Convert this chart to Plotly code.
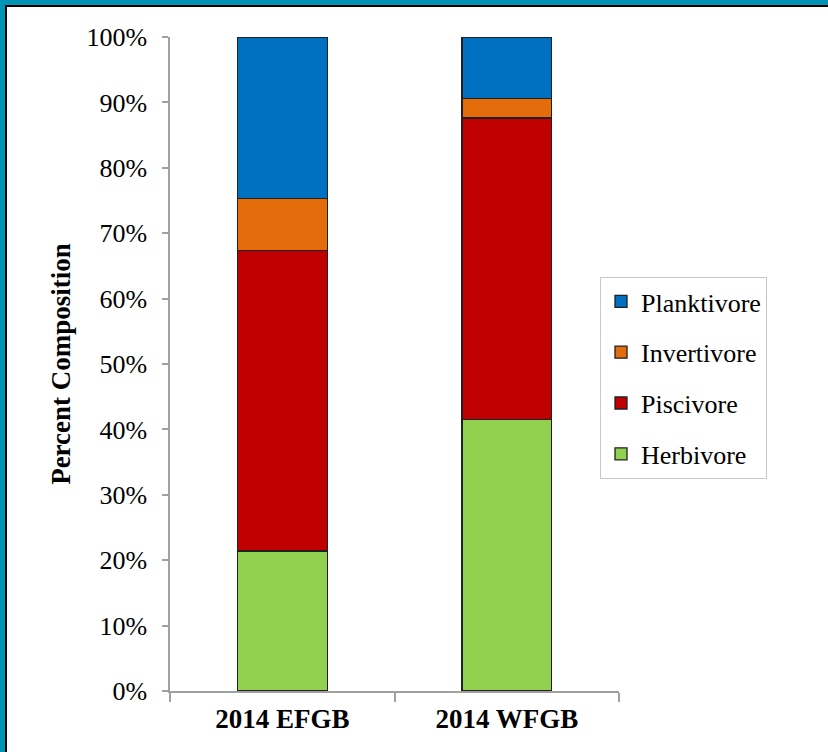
import plotly.graph_objects as go

categories = ["2014 EFGB", "2014 WFGB"]
herbivore = [21.4, 41.5]
piscivore = [46.0, 46.1]
invertivore = [7.9, 3.0]
planktivore = [24.7, 9.4]
tick_vals = [0, 10, 20, 30, 40, 50, 60, 70, 80, 90, 100]
tick_text = [f"{v}%" for v in tick_vals]

series = [
    ("Herbivore", herbivore, "#92D050", 4),
    ("Piscivore", piscivore, "#C00000", 3),
    ("Invertivore", invertivore, "#E46C0A", 2),
    ("Planktivore", planktivore, "#0070C0", 1),
]

fig = go.Figure()
for name, vals, color, rank in series:
    fig.add_trace(go.Bar(
        x=categories, y=vals, name=name, legendgroup=name, legendrank=rank,
        marker=dict(color=color, line=dict(color="#202020", width=1.3)),
    ))

W, H = 828, 752
L, R, T, B = 170, 209, 37, 61
pw, ph = W - L - R, H - T - B

def px(x):
    return (x - L) / pw

def py(y):
    return (H - B - y) / ph

font = "Liberation Serif, Times New Roman, serif"
shapes = [
    dict(type="rect", xref="paper", yref="paper", x0=px(0), x1=px(W), y0=py(0), y1=py(5),
         fillcolor="#0094B5", line=dict(width=0), layer="above"),
    dict(type="rect", xref="paper", yref="paper", x0=px(0), x1=px(5), y0=py(0), y1=py(H),
         fillcolor="#0094B5", line=dict(width=0), layer="above"),
    dict(type="rect", xref="paper", yref="paper", x0=px(5), x1=px(W), y0=py(5), y1=py(7),
         fillcolor="#000000", line=dict(width=0), layer="above"),
    dict(type="rect", xref="paper", yref="paper", x0=px(5), x1=px(7), y0=py(5), y1=py(H),
         fillcolor="#000000", line=dict(width=0), layer="above"),
]

fig.update_layout(
    width=W, height=H,
    margin=dict(l=L, r=R, t=T, b=B, pad=0),
    barmode="stack", bargap=0.6,
    paper_bgcolor="white", plot_bgcolor="white",
    font=dict(family=font, color="#000000", size=22),
    showlegend=True,
    legend=dict(
        x=px(600), y=py(277), xanchor="left", yanchor="top",
        xref="paper", yref="paper",
        traceorder="grouped", tracegroupgap=14,
        bordercolor="#C8C8C8", borderwidth=1, bgcolor="white",
        font=dict(family=font, size=26, color="#000000"),
        itemwidth=30,
    ),
    xaxis=dict(
        showline=True, linecolor="#A0A0A0", linewidth=1.5,
        ticks="outside", tickson="boundaries", ticklen=9, tickcolor="#A0A0A0", tickwidth=1.5,
        tickfont=dict(family=font, size=27, color="#000000", weight="bold"),
        ticklabelstandoff=3,
        showgrid=False, zeroline=False, range=[-0.5, 1.5],
    ),
    yaxis=dict(
        range=[0, 100], tickvals=tick_vals, ticktext=tick_text,
        showline=True, linecolor="#A0A0A0", linewidth=1.5,
        ticks="outside", ticklen=6, tickcolor="#A0A0A0", tickwidth=1.5,
        tickfont=dict(family=font, size=26, color="#000000"),
        ticklabelstandoff=10,
        showgrid=False, zeroline=False,
        title=dict(text="<b>Percent Composition</b>", font=dict(family=font, size=27, color="#000000"),
                   standoff=8),
    ),
    shapes=shapes,
)

fig.write_html(
    "out.html",
    config={"displayModeBar": False},
    post_script="document.body.style.margin='0px';document.body.style.padding='0px';document.body.style.overflow='hidden';",
)
